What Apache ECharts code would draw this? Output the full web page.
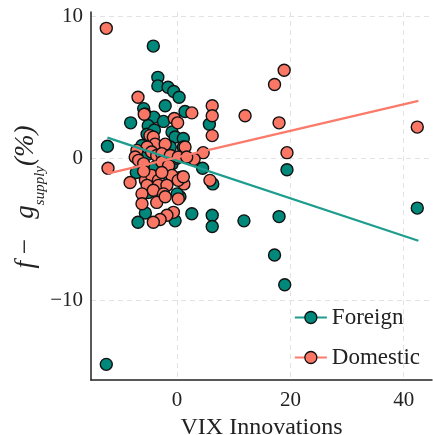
<!DOCTYPE html>
<html>
<head>
<meta charset="utf-8">
<script src="https://cdn.jsdelivr.net/npm/echarts@6/dist/echarts.min.js"></script>
<style>html,body{margin:0;padding:0;background:#fff;}#c{width:433px;height:435px;}</style>
</head>
<body>
<div id="c"></div>
<script>
const seriesNames = ['Foreign', 'Domestic'];
const foreignPts = [
  [-4.2,7.9],[-12.5,-14.5],[-12.3,0.85],[-3.4,5.7],[-3.4,5.1],[-1.6,5.0],[-0.6,4.7],[0.35,4.3],
  [-2.1,3.7],[-5.9,3.5],[-5.6,3.1],[1.4,3.3],[-8.2,2.5],[-4.1,2.9],[-2.4,2.6],[-5.1,2.3],
  [5.7,2.4],[-5.3,1.7],[-0.9,1.85],[-0.35,1.5],[1.1,1.4],[1.1,0.8],[-6.2,0.9],[-1.2,0.8],
  [-5.1,0.3],[-0.9,-0.4],[-0.05,0.0],[-3.9,-0.6],[-1.5,-0.6],[4.5,-0.7],[19.4,-0.8],[6.3,-1.8],
  [0.5,-2.7],[2.6,-3.9],[6.2,-4.0],[6.2,-4.8],[11.8,-4.4],[18.0,-4.1],[42.4,-3.5],[17.2,-6.8],
  [19.0,-8.9],[-5.6,-3.85],[-6.9,-4.5],[-0.35,-4.4],[0.0,-2.5],[-5.1,-2.4],[-7.2,-1.0],
  [-3.6,-1.6],[-2.1,-1.5],[0.6,-1.35],[-4.0,2.0],[-2.0,-0.3]
];
const domesticPts = [
  [-12.5,9.15],[-12.2,-0.7],[18.9,6.2],[17.2,5.2],[2.6,3.2],[6.2,3.7],[6.2,3.0],[6.2,1.6],
  [12.0,3.0],[18.0,2.5],[19.4,0.4],[42.4,2.2],[1.4,0.8],[4.6,0.4],[3.0,-0.07],[5.8,-1.55],
  [1.2,-1.8],[-6.9,4.3],[-5.8,3.1],[-0.5,2.8],[0.1,2.5],[-4.8,1.6],[-4.2,1.5],[-3.9,1.0],
  [-2.1,1.0],[-5.3,0.8],[-7.1,0.56],[-7.4,0.1],[-4.5,0.45],[-3.6,0.2],[-2.7,0.33],[-1.2,0.2],
  [0.2,0.1],[1.7,0.1],[-6.8,-0.14],[-5.9,-0.37],[-2.7,-0.26],[-1.5,-0.5],[-8.3,-1.7],[-5.6,-1.55],
  [-4.5,-1.2],[-3.3,-1.55],[-0.9,-1.2],[0.2,-1.55],[-5.3,-1.9],[-3.3,-1.9],[-1.8,-1.9],[-6.2,-2.5],
  [-4.2,-2.25],[-2.4,-2.5],[-3.6,-3.1],[-2.1,-2.7],[0.2,-2.85],[-6.2,-3.2],[-0.65,-3.8],[-1.8,-4.0],
  [-3.0,-4.3],[-4.2,-4.5],[-5.9,-0.9],[-2.7,-1.0],[1.1,-1.3]
];
const foreignFit = [[-12.3,1.46],[42.6,-5.8]];
const domesticFit = [[-12.3,-1.08],[42.6,4.04]];
const xTicks = [0, 20, 40];
const yTicks = [-10, 0, 10];
const xLabel = 'VIX Innovations';

const teal = '#00897b', salmon = '#fa7766';
const tealLine = '#1e9c8e', salmonLine = '#fb7a6a';
const serif = '"Liberation Serif", "DejaVu Serif", serif';
const chart = echarts.init(document.getElementById('c'), null, {renderer: 'canvas'});
const gridLine = {show: true, lineStyle: {color: '#e2e2e2', type: [5, 4], width: 1}};
chart.setOption({
  animation: false,
  backgroundColor: '#fff',
  grid: {left: 91, right: 1, top: 12, bottom: 55, containLabel: false, outerBoundsMode: 'none'},
  xAxis: {
    type: 'value', min: -15.2, max: 45,
    name: xLabel, nameLocation: 'middle', nameGap: 34,
    nameTextStyle: {fontFamily: serif, fontSize: 24, color: '#222'},
    axisLine: {show: true, onZero: false, lineStyle: {color: '#222', width: 1.5}},
    axisTick: {show: false, customValues: xTicks},
    axisLabel: {customValues: xTicks, fontFamily: serif, fontSize: 21, color: '#222', margin: 10},
    splitLine: gridLine
  },
  yAxis: {
    type: 'value', min: -15.6, max: 10.3,
    axisLine: {show: true, onZero: false, lineStyle: {color: '#222', width: 1.5}},
    axisTick: {show: false, customValues: yTicks},
    axisLabel: {customValues: yTicks, fontFamily: serif, fontSize: 21, color: '#222', margin: 8,
      formatter: v => String(v).replace('-', '\u2212')},
    splitLine: gridLine
  },
  legend: {
    orient: 'vertical', right: 8, top: 301, itemGap: 17, itemWidth: 32, itemHeight: 15,
    data: seriesNames,
    textStyle: {fontFamily: serif, fontSize: 23, color: '#222'},
    itemStyle: {borderColor: '#111', borderWidth: 1.3}
  },
  graphic: [{
    type: 'text', x: 26, y: 197, rotation: Math.PI / 2,
    style: {
      text: '{i|f}{m| \u2212   }{i|g}{s|supply}{n|(%)}',
      align: 'center', verticalAlign: 'middle', fill: '#222',
      rich: {
        i: {fontFamily: serif, fontStyle: 'italic', fontSize: 27, lineHeight: 44, verticalAlign: 'middle'},
        m: {fontFamily: serif, fontSize: 27, lineHeight: 44, verticalAlign: 'middle'},
        s: {fontFamily: serif, fontStyle: 'italic', fontSize: 15, lineHeight: 15, verticalAlign: 'bottom'},
        n: {fontFamily: serif, fontStyle: 'italic', fontSize: 27, lineHeight: 44, verticalAlign: 'middle'}
      },
      fontFamily: serif, fontSize: 27
    }
  }],
  series: [
    {name: seriesNames[0], type: 'line', data: foreignFit, showSymbol: false, symbol: 'circle', symbolSize: 12,
     lineStyle: {color: tealLine, width: 2.2}, itemStyle: {color: teal, borderColor: '#111', borderWidth: 1.3}, z: 3},
    {name: seriesNames[1], type: 'line', data: domesticFit, showSymbol: false, symbol: 'circle', symbolSize: 12,
     lineStyle: {color: salmonLine, width: 2.2}, itemStyle: {color: salmon, borderColor: '#111', borderWidth: 1.3}, z: 3},
    {name: seriesNames[0], type: 'scatter', data: foreignPts, symbolSize: 12,
     itemStyle: {color: teal, borderColor: '#111', borderWidth: 1.4, opacity: 1}, z: 2},
    {name: seriesNames[1], type: 'scatter', data: domesticPts, symbolSize: 12,
     itemStyle: {color: salmon, borderColor: '#111', borderWidth: 1.4, opacity: 1}, z: 2}
  ]
});
</script>
</body>
</html>
